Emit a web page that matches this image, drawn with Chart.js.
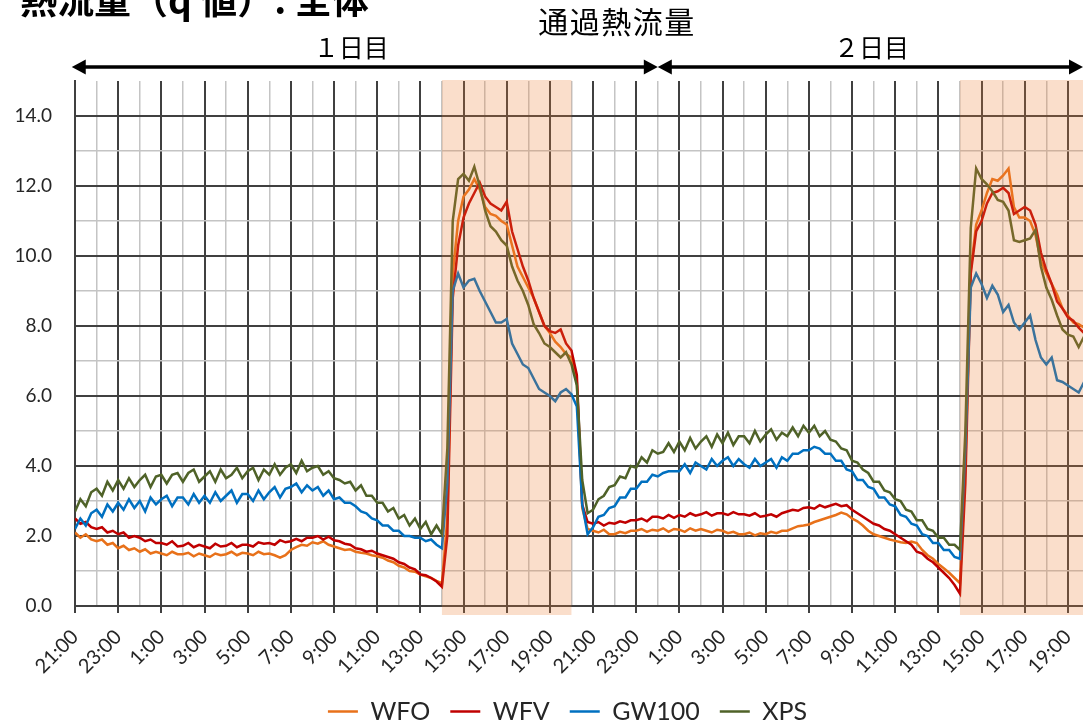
<!DOCTYPE html>
<html lang="ja">
<head>
<meta charset="utf-8">
<title>通過熱流量</title>
<script src="https://cdn.jsdelivr.net/npm/chart.js@4.4.1/dist/chart.umd.min.js"></script>
<style>
  html, body { margin: 0; padding: 0; background: #fff; overflow: hidden; }
  #wrap { position: relative; width: 1083px; height: 724px; }
</style>
</head>
<body>
<div id="wrap"><canvas id="heatChart"></canvas></div>
<script>
// x tick labels, one per 2 hours starting 21:00 on the evening before day 1
const timeLabels = ['21:00', '23:00', '1:00', '3:00', '5:00', '7:00', '9:00', '11:00', '13:00', '15:00', '17:00', '19:00',
                    '21:00', '23:00', '1:00', '3:00', '5:00', '7:00', '9:00', '11:00', '13:00', '15:00', '17:00', '19:00'];
const stepHours = 0.25;   // 15 min readings
const xMaxHours = 46.7;

// heat flow readings (one row = one hour, 4 readings)
const wfo = [
  2.10, 1.95, 2.05, 1.90,  1.85, 1.90, 1.75, 1.80,  1.65, 1.72, 1.60, 1.65,  1.55, 1.62, 1.50, 1.55,
  1.50, 1.45, 1.55, 1.48,  1.48, 1.52, 1.42, 1.50,  1.45, 1.40, 1.50, 1.45,  1.48, 1.55, 1.45, 1.52,
  1.50, 1.45, 1.55, 1.48,  1.50, 1.45, 1.38, 1.45,  1.60, 1.68, 1.75, 1.72,  1.82, 1.78, 1.85, 1.75,
  1.70, 1.65, 1.60, 1.62,  1.55, 1.52, 1.50, 1.45,  1.42, 1.38, 1.30, 1.25,  1.15, 1.10, 1.00, 0.98,
  0.90, 0.85, 0.80, 0.72,  0.65, 2.50, 9.50, 11.00, 11.70, 11.90, 12.20, 11.90, 11.40, 11.20, 11.15, 11.00,
  10.90, 10.30, 9.70, 9.40, 9.10, 8.80, 8.40, 8.00, 7.80, 7.55, 7.40, 7.20, 7.10, 6.40, 2.80, 2.20,
  2.15, 2.10, 2.18, 2.05,  2.05, 2.12, 2.08, 2.15,  2.15, 2.20, 2.12, 2.18,  2.15, 2.22, 2.12, 2.20,
  2.18, 2.12, 2.22, 2.15,  2.20, 2.15, 2.10, 2.18,  2.15, 2.08, 2.12, 2.05,  2.05, 2.10, 2.02, 2.08,
  2.05, 2.12, 2.08, 2.15,  2.15, 2.22, 2.28, 2.30,  2.33, 2.40, 2.45, 2.50,  2.55, 2.60, 2.67, 2.62,
  2.50, 2.42, 2.30, 2.15,  2.05, 2.00, 1.95, 1.90,  1.86, 1.82, 1.80, 1.84,  1.80, 1.60, 1.45, 1.35,
  1.20, 1.08, 0.95, 0.80,  0.65, 4.00, 9.60, 10.90, 11.30, 11.80, 12.20, 12.15, 12.30, 12.50, 11.40, 11.10,
  11.10, 11.00, 10.60, 9.85, 9.50, 9.20, 8.90, 8.50, 8.30, 8.10, 8.05, 7.95
];
const wfv = [
  2.50, 2.35, 2.40, 2.25,  2.20, 2.25, 2.10, 2.15,  2.05, 2.10, 1.95, 2.00,  1.95, 1.85, 1.90, 1.80,
  1.80, 1.75, 1.85, 1.70,  1.72, 1.80, 1.68, 1.75,  1.70, 1.65, 1.78, 1.70,  1.72, 1.80, 1.68, 1.75,
  1.75, 1.70, 1.82, 1.78,  1.80, 1.75, 1.88, 1.82,  1.85, 1.92, 1.85, 1.95,  1.95, 2.00, 1.90, 1.98,
  1.88, 1.85, 1.78, 1.75,  1.65, 1.62, 1.55, 1.58,  1.50, 1.45, 1.40, 1.35,  1.25, 1.20, 1.10, 1.05,
  0.90, 0.88, 0.80, 0.70,  0.55, 2.00, 8.80, 10.30, 11.10, 11.50, 11.80, 12.10, 11.70, 11.50, 11.40, 11.30,
  11.55, 10.70, 10.20, 9.70, 9.30, 8.80, 8.40, 8.00, 7.85, 7.80, 7.90, 7.50, 7.30, 6.60, 2.90, 2.40,
  2.35, 2.40, 2.30, 2.38,  2.35, 2.42, 2.38, 2.45,  2.45, 2.50, 2.42, 2.55,  2.55, 2.50, 2.60, 2.52,
  2.60, 2.55, 2.65, 2.58,  2.62, 2.68, 2.58, 2.65,  2.65, 2.60, 2.68, 2.62,  2.62, 2.58, 2.65, 2.55,
  2.58, 2.62, 2.55, 2.65,  2.70, 2.75, 2.72, 2.80,  2.82, 2.78, 2.88, 2.82,  2.87, 2.92, 2.85, 2.88,
  2.75, 2.65, 2.55, 2.45,  2.35, 2.30, 2.20, 2.15,  2.05, 1.95, 1.85, 1.75,  1.55, 1.50, 1.35, 1.25,
  1.10, 0.95, 0.80, 0.60,  0.35, 3.50, 9.50, 10.70, 11.00, 11.50, 11.80, 11.85, 11.95, 11.80, 11.20, 11.30,
  11.40, 11.30, 10.90, 10.10, 9.60, 9.20, 8.70, 8.50, 8.25, 8.15, 7.95, 7.80
];
const gw100 = [
  2.20, 2.50, 2.30, 2.65,  2.75, 2.55, 2.90, 2.70,  2.95, 2.75, 3.05, 2.80,  3.00, 2.70, 3.10, 2.90,
  3.05, 3.15, 2.85, 3.10,  3.10, 2.90, 3.20, 2.95,  3.15, 2.95, 3.25, 3.00,  3.15, 3.30, 2.95, 3.20,
  3.20, 3.00, 3.30, 3.05,  3.25, 3.40, 3.10, 3.35,  3.40, 3.50, 3.25, 3.45,  3.30, 3.40, 3.15, 3.30,
  3.05, 3.10, 2.95, 2.95,  2.85, 2.70, 2.65, 2.50,  2.45, 2.30, 2.30, 2.15,  2.15, 2.00, 2.00, 1.95,
  1.95, 1.85, 1.90, 1.75,  1.65, 3.50, 9.00, 9.50,  9.10, 9.30, 9.35, 9.00,  8.70, 8.40, 8.10, 8.10,
  8.20, 7.50, 7.20, 6.90,  6.80, 6.50, 6.20, 6.10,  6.00, 5.85, 6.10, 6.20,  6.05, 5.70, 2.90, 2.05,
  2.25, 2.55, 2.60, 2.80,  2.85, 3.10, 3.10, 3.35,  3.35, 3.55, 3.55, 3.75,  3.70, 3.80, 3.85, 3.85,
  3.85, 4.05, 3.80, 4.10,  4.00, 3.90, 4.20, 4.00,  4.15, 4.25, 4.00, 4.20,  4.05, 3.95, 4.20, 4.00,
  4.10, 4.20, 3.95, 4.25,  4.15, 4.35, 4.35, 4.45,  4.45, 4.55, 4.50, 4.35,  4.35, 4.15, 4.15, 3.90,
  3.85, 3.60, 3.60, 3.40,  3.35, 3.10, 3.10, 2.90,  2.85, 2.60, 2.55, 2.35,  2.30, 2.05, 2.00, 1.80,
  1.80, 1.60, 1.60, 1.40,  1.35, 4.50, 9.10, 9.50,  9.20, 8.80, 9.15, 8.90,  8.40, 8.60, 8.10, 7.90,
  8.10, 8.30, 7.60, 7.10,  6.90, 7.10, 6.45, 6.40,  6.30, 6.20, 6.10, 6.40
];
const xps = [
  2.70, 3.05, 2.85, 3.25,  3.35, 3.15, 3.55, 3.30,  3.60, 3.35, 3.65, 3.40,  3.60, 3.75, 3.40, 3.70,
  3.75, 3.50, 3.75, 3.80,  3.55, 3.80, 3.90, 3.55,  3.70, 3.85, 3.55, 3.90,  3.65, 3.75, 3.95, 3.65,
  3.85, 3.95, 3.60, 3.90,  3.75, 4.05, 3.75, 3.95,  4.05, 3.80, 4.15, 3.85,  3.95, 4.00, 3.75, 3.85,
  3.65, 3.60, 3.50, 3.55,  3.30, 3.45, 3.15, 3.15,  2.95, 2.95, 2.70, 2.80,  2.50, 2.60, 2.30, 2.50,
  2.20, 2.40, 2.05, 2.30,  2.05, 4.50, 11.00, 12.20, 12.35, 12.15, 12.55, 12.00, 11.30, 10.85, 10.70, 10.45,
  10.30, 9.70, 9.30, 9.00, 8.60, 8.05, 7.80, 7.50,  7.40, 7.25, 7.10, 7.25,  6.90, 6.30, 3.60, 2.65,
  2.75, 3.05, 3.15, 3.40,  3.45, 3.70, 3.65, 4.00,  3.95, 4.25, 4.10, 4.45,  4.35, 4.40, 4.65, 4.40,
  4.70, 4.45, 4.80, 4.50,  4.70, 4.85, 4.55, 4.90,  4.65, 4.95, 4.60, 4.85,  4.85, 4.65, 5.00, 4.70,
  4.90, 5.05, 4.75, 4.95,  4.85, 5.10, 4.85, 5.15,  4.95, 5.15, 4.85, 5.00,  4.75, 4.70, 4.50, 4.45,
  4.15, 4.10, 3.90, 3.80,  3.55, 3.55, 3.30, 3.25,  3.05, 3.00, 2.75, 2.70,  2.45, 2.45, 2.20, 2.15,
  1.95, 1.95, 1.75, 1.75,  1.60, 5.00, 10.80, 12.50, 12.20, 12.05, 11.85, 11.60, 11.55, 11.30, 10.45, 10.40,
  10.45, 10.50, 10.75, 9.70, 9.10, 8.75, 8.30, 7.90, 7.75, 7.70, 7.40, 7.70
];

// 14:00-20:00 bands, hours from the first 21:00
const shadeBands = [[17, 23], [41, 47]];
// day arrows: from hour, to hour, caption, caption position (hour)
const dayArrows = [[-0.15, 27, '１日目', 12.8], [27, 47, '２日目', 36.9]];

const hours = wfo.map((_, i) => i * stepHours);

const majorGrid = '#404040';
const minorGrid = '#c4c4c4';

const shadePlugin = {
  id: 'shade',
  afterDatasetsDraw(chart) {
    const { ctx, chartArea } = chart;
    const xs = chart.scales.x;
    ctx.save();
    ctx.fillStyle = 'rgba(237, 125, 49, 0.25)';
    shadeBands.forEach(([a, b]) => {
      const x1 = xs.getPixelForValue(a);
      const x2 = Math.min(xs.getPixelForValue(b), chartArea.right);
      ctx.fillRect(x1, chartArea.top - 1, x2 - x1, chartArea.bottom - chartArea.top + 10);
    });
    ctx.restore();
  }
};

// the legend sits a little right of the canvas centre
const legendShift = {
  id: 'legendShift',
  afterLayout(chart) {
    chart.legend.left += 26;
    chart.legend.right += 26;
  }
};

function drawArrowHead(ctx, x, y, dir) {
  ctx.beginPath();
  ctx.moveTo(x, y);
  ctx.lineTo(x - dir * 14, y - 7.5);
  ctx.lineTo(x - dir * 14, y + 7.5);
  ctx.closePath();
  ctx.fill();
}

const headerPlugin = {
  id: 'header',
  afterDraw(chart) {
    const { ctx, chartArea } = chart;
    const xs = chart.scales.x;
    ctx.save();
    ctx.fillStyle = '#000';
    ctx.strokeStyle = '#000';

    ctx.font = 'bold 37px "Noto Sans CJK JP"';
    ctx.textAlign = 'left';
    ctx.textBaseline = 'alphabetic';
    ctx.fillText('熱流量（q 値）: 全体', 20, 14);

    ctx.font = '30px "Noto Sans CJK JP"';
    ctx.letterSpacing = '1.5px';
    ctx.textAlign = 'center';
    ctx.textBaseline = 'middle';
    ctx.fillText('通過熱流量', 617, 22);
    ctx.letterSpacing = '0px';

    const ay = 67;
    ctx.lineWidth = 3.5;
    ctx.font = '25px "Noto Sans CJK JP"';
    dayArrows.forEach(([a, b, text, mid]) => {
      const x1 = xs.getPixelForValue(a);
      const x2 = Math.min(xs.getPixelForValue(b), chartArea.right);
      ctx.beginPath();
      ctx.moveTo(x1 + 10, ay);
      ctx.lineTo(x2 - 10, ay);
      ctx.stroke();
      drawArrowHead(ctx, x1, ay, -1);
      drawArrowHead(ctx, x2, ay, 1);
      ctx.fillText(text, xs.getPixelForValue(mid), 47);
    });
    ctx.restore();
  }
};

function makeSet(label, values, color, order) {
  return {
    label: label,
    data: values,
    borderColor: color,
    backgroundColor: color,
    borderWidth: 2.5,
    pointRadius: 0,
    tension: 0,
    order: order
  };
}

const chart = new Chart(document.getElementById('heatChart'), {
  type: 'line',
  data: {
    labels: hours,
    datasets: [
      makeSet('WFO', wfo, '#E8711A', 4),
      makeSet('WFV', wfv, '#C00000', 3),
      makeSet('GW100', gw100, '#0070C0', 2),
      makeSet('XPS', xps, '#4F6228', 1)
    ]
  },
  options: {
    responsive: true,
    maintainAspectRatio: false,
    animation: false,
    devicePixelRatio: 1,
    layout: { padding: { top: 81, left: 0, right: 0, bottom: -10 } },
    scales: {
      x: {
        type: 'linear',
        min: 0,
        max: xMaxHours,
        afterBuildTicks(scale) {
          // one tick per hour; labels only on the even ones
          scale.ticks = Array.from({ length: Math.floor(xMaxHours) + 1 }, (_, i) => ({ value: i }));
        },
        afterFit(scale) {
          scale.height = 73;
          scale.paddingLeft = 0;
          scale.paddingRight = 0;
        },
        ticks: {
          stepSize: 1,
          autoSkip: false,
          minRotation: 45,
          maxRotation: 45,
          padding: 12,
          color: '#262626',
          font: { family: 'Lato', size: 20 },
          callback: (v) => (v % 2 === 0 ? timeLabels[v / 2] : '')
        },
        grid: {
          color: (c) => (c.tick && c.tick.value % 2 === 0 ? majorGrid : minorGrid),
          lineWidth: (c) => (c.tick && c.tick.value % 2 === 0 ? 2 : 1.5),
          tickColor: (c) => (c.tick && c.tick.value % 2 === 0 ? majorGrid : 'rgba(0,0,0,0)'),
          tickLength: 7,
          tickWidth: 2
        },
        border: { color: majorGrid, width: 2 }
      },
      y: {
        min: 0,
        max: 15,
        afterFit(scale) {
          scale.width = 75;
        },
        ticks: {
          stepSize: 1,
          padding: 23,
          color: '#262626',
          font: { family: 'Lato', size: 19 },
          callback: (v) => (v % 2 === 0 ? v.toFixed(1) : '')
        },
        grid: {
          drawTicks: false,
          color: (c) => (c.tick.value === 15 ? 'rgba(0,0,0,0)' : (c.tick.value % 2 === 0 ? majorGrid : minorGrid)),
          lineWidth: (c) => (c.tick.value % 2 === 0 ? 2 : 1.5)
        },
        border: { color: majorGrid, width: 2 }
      }
    },
    plugins: {
      legend: {
        position: 'bottom',
        labels: {
          usePointStyle: true,
          pointStyle: 'line',
          pointStyleWidth: 30,
          padding: 20,
          color: '#262626',
          font: { family: 'Lato', size: 25 },
          sort: (a, b) => a.datasetIndex - b.datasetIndex
        }
      },
      tooltip: { enabled: false }
    }
  },
  plugins: [shadePlugin, legendShift, headerPlugin]
});
</script>
</body>
</html>
